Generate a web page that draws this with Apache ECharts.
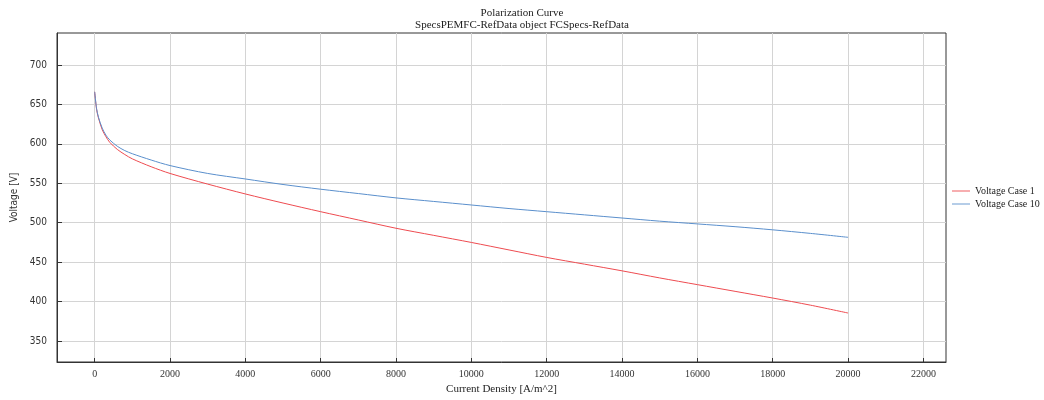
<!DOCTYPE html>
<html>
<head>
<meta charset="utf-8">
<script src="https://cdn.jsdelivr.net/npm/echarts@6/dist/echarts.min.js"></script>
<style>
  html, body { margin: 0; padding: 0; background: #fff; }
  #chart { width: 1044px; height: 400px; }
</style>
</head>
<body>
<div id="chart"></div>
<script>
const currentDensity = [0, 50, 100, 200, 300, 400, 600, 800, 1000, 1500, 2000, 3000, 4000, 5000, 6000,
  7000, 8000, 9000, 10000, 11000, 12000, 13000, 14000, 15000, 16000, 17000, 18000, 19000, 20000]
const voltageCase1 = [666, 644, 633, 618, 609, 602, 593, 586.5, 581, 571, 562.5, 549, 536.5, 525, 514,
  503.5, 493, 484, 475, 465.5, 456, 447.5, 439, 430, 421.5, 413, 404.5, 395.5, 385.5]
const voltageCase10 = [666, 645, 634, 620, 611, 605, 597, 591.5, 587.5, 579.5, 572.5, 562.5, 555.5, 548.5, 542.5,
  537, 531.5, 527, 522.5, 518, 514, 510, 506, 502, 498.5, 495, 491, 486.5, 481.5]
const xTicks = [0, 2000, 4000, 6000, 8000, 10000, 12000, 14000, 16000, 18000, 20000, 22000]
const yTicks = [350, 400, 450, 500, 550, 600, 650, 700]

const chart = echarts.init(document.getElementById('chart'))

const pairs = (ys) => currentDensity.map((x, i) => [x, ys[i]])

chart.setOption({
  animation: false,
  title: {
    text: 'Polarization Curve',
    subtext: 'SpecsPEMFC-RefData object FCSpecs-RefData',
    left: 'center',
    top: 3,
    itemGap: 1,
    textStyle: { fontFamily: 'Liberation Serif', fontSize: 11, fontWeight: 'normal', color: '#222' },
    subtextStyle: { fontFamily: 'Liberation Serif', fontSize: 11, color: '#222' },
  },
  legend: {
    orient: 'vertical',
    left: 952,
    top: 186,
    padding: 0,
    itemWidth: 18,
    itemHeight: 10,
    itemGap: 3,
    icon: 'path://M0,5 L20,5 L20,6 L0,6 Z',
    textStyle: { fontFamily: 'Liberation Serif', fontSize: 10, color: '#222' },
  },
  grid: {
    left: 57,
    right: 98,
    top: 33,
    bottom: 38,
    show: true,
    borderColor: '#333',
    borderWidth: 1,
  },
  xAxis: {
    type: 'value',
    min: -1000,
    max: 22600,
    name: 'Current Density [A/m^2]',
    nameLocation: 'middle',
    nameGap: 20,
    nameTextStyle: { fontFamily: 'Liberation Serif', fontSize: 11, color: '#222' },
    axisLine: { onZero: false, lineStyle: { color: '#333' } },
    axisTick: { inside: true, length: 4, customValues: xTicks, lineStyle: { color: '#333' } },
    axisLabel: {
      customValues: xTicks,
      formatter: (v) => String(v),
      margin: 7,
      fontFamily: 'Liberation Serif',
      fontSize: 10,
      color: '#333',
    },
    splitLine: { show: true, lineStyle: { color: '#d4d4d4' } },
  },
  yAxis: {
    type: 'value',
    min: 323.4,
    max: 740.6,
    name: 'Voltage [V]',
    nameLocation: 'middle',
    nameGap: 37,
    nameTextStyle: { fontFamily: 'DejaVu Sans Condensed', fontSize: 10, color: '#333' },
    axisLine: { show: true, onZero: false, lineStyle: { color: '#333' } },
    axisTick: { show: true, inside: true, length: 5, customValues: yTicks, lineStyle: { color: '#333' } },
    axisLabel: {
      customValues: yTicks,
      margin: 10,
      fontFamily: 'DejaVu Sans Condensed',
      fontSize: 10,
      color: '#333',
    },
    splitLine: { show: true, lineStyle: { color: '#d4d4d4' } },
  },
  series: [
    {
      name: 'Voltage Case 1',
      type: 'line',
      symbol: 'none',
      smooth: 0.3,
      lineStyle: { width: 1, color: '#ee4b50' },
      itemStyle: { color: '#ee4b50' },
      data: pairs(voltageCase1),
    },
    {
      name: 'Voltage Case 10',
      type: 'line',
      symbol: 'none',
      smooth: 0.3,
      lineStyle: { width: 1, color: '#5a8fcc' },
      itemStyle: { color: '#5a8fcc' },
      data: pairs(voltageCase10),
    },
  ],
})
</script>
</body>
</html>
